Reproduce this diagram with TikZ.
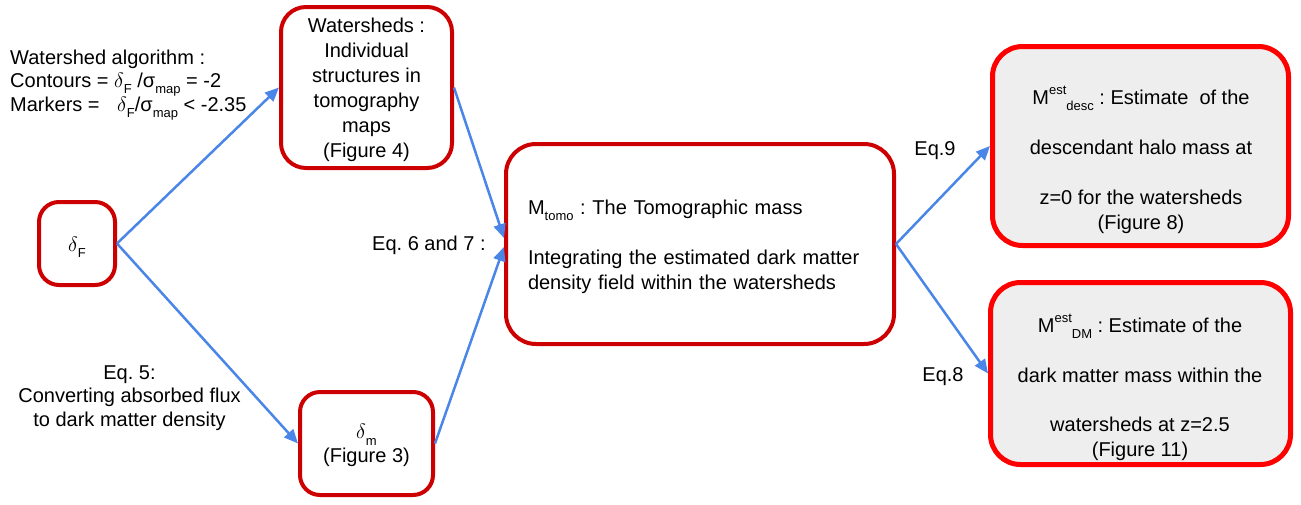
\documentclass[tikz,border=0pt]{standalone}
\usepackage{fontspec}
\setmainfont{Liberation Sans}
\usetikzlibrary{arrows.meta,calc}
\definecolor{boxred}{HTML}{CC0000}
\definecolor{hotred}{HTML}{FF0000}
\definecolor{panel}{HTML}{EEEEEE}
\definecolor{flow}{HTML}{4A86E8}
% small lowered / raised index text, set in the body font
\newcommand\lo[1]{\smash{\raisebox{-0.32em}{\fontsize{13}{13}\selectfont #1}}}
\newcommand\hi[1]{\smash{\raisebox{0.5em}{\fontsize{13}{13}\selectfont #1}}}
% invisible strut that fixes the height of a text line
\newcommand\tstrut{\rule[-0.2\baselineskip]{0pt}{\baselineskip}}
\begin{document}
\frenchspacing
\begin{tikzpicture}[x=1pt,y=-1pt,
  every node/.style={font=\fontsize{20}{25}\selectfont},
  box/.style={draw=boxred, line width=4pt, rounded corners=20pt, align=center, inner sep=0pt},
  estbox/.style={draw=hotred, fill=panel, line width=5pt, rounded corners=30pt, inner sep=0pt},
  txt/.style={inner sep=0pt, align=center},
  flowarrow/.style={draw=flow, line width=2.5pt, -{Triangle[length=14pt,width=12pt]}}]
\useasboundingbox (0,0) rectangle (1301,504);

% boxes
\node[box, minimum width=76pt, minimum height=83pt] (dF) at (77,243.5) {\tstrut$\delta$\lo{F}};
\node[box, rounded corners=25pt, minimum width=171pt, minimum height=161pt] (ws) at (366.5,87.5)
  {\tstrut Watersheds :\\ Individual\\ structures in\\ tomography\\ maps\\ (Figure 4)\tstrut};
\node[box, minimum width=133pt, minimum height=103pt, font=\fontsize{20}{24}\selectfont] (dm) at (366.5,443.5)
  {\tstrut$\delta$\lo{m}\\ (Figure 3)\tstrut};
\node[box, rounded corners=30pt, minimum width=388pt, minimum height=200pt, text width=344pt, align=left] (tomo) at (700,244)
  {\tstrut M\lo{tomo} : The Tomographic mass\\[25pt]
   Integrating the estimated dark matter\\ density field within the watersheds\tstrut};
\node[estbox, minimum width=296pt, minimum height=199pt] (desc) at (1140.5,146) {};
\node[estbox, minimum width=300pt, minimum height=182pt] (dmest) at (1140.5,373.5) {};

% texts inside the estimate boxes
\node[txt] (desctext) at (1141,159.5)
  {\tstrut M\hi{est}\lo{desc} : Estimate~ of the\\[25pt]
   descendant halo mass at\\[25pt]
   z=0 for the watersheds\\ (Figure 8)\tstrut};
\node[txt] (dmesttext) at (1140,387)
  {\tstrut M\hi{est}\lo{DM} : Estimate of the\\[25pt]
   dark matter mass within the\\[24pt]
   watersheds at z=2.5\\ (Figure 11)\tstrut};

% annotations
\node[txt, align=left, anchor=west, font=\fontsize{20}{23.5}\selectfont] (algo) at (10,80.5)
  {\tstrut Watershed algorithm :\\
   Contours = $\delta$\lo{F} /σ\lo{map} = -2\\
   Markers =\hspace{12pt} $\delta$\lo{F}/σ\lo{map} < -2.35\tstrut};
\node[txt, font=\fontsize{20}{23.5}\selectfont] (eqfive) at (129.5,395.5)
  {\tstrut Eq. 5:\\ Converting absorbed flux\\ to dark matter density\tstrut};
\node[txt, anchor=west] (eqsix) at (372,243) {\tstrut Eq. 6 and 7 :};
\node[txt] (eqnine) at (935,148) {\tstrut Eq.9};
\node[txt] (eqeight) at (943,374) {\tstrut Eq.8};

% connectors
\draw[flowarrow] (dF.east) -- (ws.west);
\draw[flowarrow] (dF.east) -- (dm.west);
\draw[flowarrow] (ws.east) -- ($(tomo.west)+(0,-6)$);
\draw[flowarrow] (dm.east) -- ($(tomo.west)+(0,3)$);
\draw[flowarrow] (tomo.east) -- (desc.west);
\draw[flowarrow] (tomo.east) -- (dmest.west);
\end{tikzpicture}
\end{document}
